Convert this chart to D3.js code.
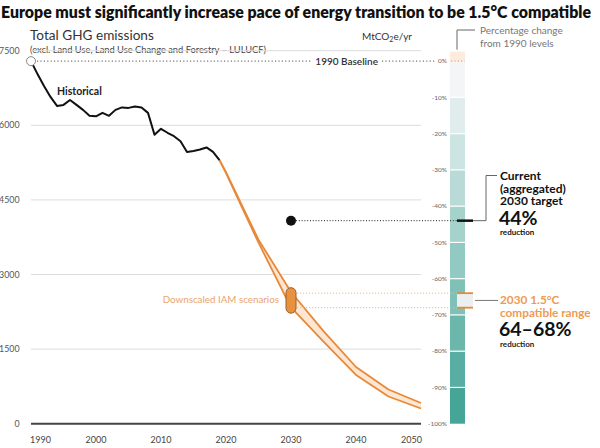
<!DOCTYPE html>
<html>
<head>
<meta charset="utf-8">
<script src="https://cdn.jsdelivr.net/npm/d3@7"></script>
<style>
  body { margin: 0; background: #fff; }
  svg { display: block; font-family: Lato, "Open Sans", sans-serif; }
</style>
</head>
<body>
<div id="chart"></div>
<script>
// historical emissions (MtCO2e/yr)
const histYears = [1990, 1991, 1992, 1993, 1994, 1995, 1996, 1997, 1998, 1999,
  2000, 2001, 2002, 2003, 2004, 2005, 2006, 2007, 2008, 2009,
  2010, 2011, 2012, 2013, 2014, 2015, 2016, 2017, 2018, 2019];
const histValues = [7290, 7030, 6790, 6570, 6390, 6410, 6510, 6410, 6310, 6190,
  6180, 6250, 6190, 6310, 6360, 6350, 6380, 6360, 6250, 5810,
  5930, 5850, 5780, 5680, 5465, 5485, 5515, 5555, 5465, 5300];

// downscaled IAM scenario range
const iamYears = [2019, 2020, 2025, 2030, 2035, 2040, 2045, 2050];
const iamLow = [5300, 5040, 3640, 2337, 1650, 980, 547, 306];
const iamHigh = [5300, 5060, 3700, 2649, 1860, 1140, 688, 416];

const baseline1990 = 7290;
const currentTarget = -44;          // % vs 1990
const compatibleRange = [-64, -68]; // % vs 1990

const yTicks = [0, 1500, 3000, 4500, 6000, 7500];
const xTicks = [1990, 2000, 2010, 2020, 2030, 2040, 2050];
const pctTicks = [0, -10, -20, -30, -40, -50, -60, -70, -80, -90, -100];

const width = 600;
const height = 448;
const orange = '#e8893a';
const orangeLight = '#fde6d2';
const gridColor = '#dcdcdc';

const svg = d3.select('#chart')
  .append('svg')
  .attr('width', width)
  .attr('height', height);

const x = d3.scaleLinear().domain([1990, 2050]).range([31, 421]);
const y = d3.scaleLinear().domain([0, 7500]).range([423.7, 50.7]);
const yPct = d3.scaleLinear().domain([-100, 0]).range([y(0), y(baseline1990)]);

// title
svg.append('text')
  .attr('x', 1).attr('y', 18)
  .attr('font-size', 16).attr('font-weight', 800).attr('fill', '#111')
  .attr('textLength', 590).attr('lengthAdjust', 'spacingAndGlyphs')
  .text('Europe must significantly increase pace of energy transition to be 1.5°C compatible');

svg.append('text')
  .attr('x', 30).attr('y', 40)
  .attr('font-size', 13.6).attr('fill', '#333')
  .text('Total GHG emissions');
svg.append('text')
  .attr('x', 30).attr('y', 52.5)
  .attr('font-size', 9.3).attr('fill', '#444')
  .text('(excl. Land Use, Land Use Change and Forestry – LULUCF)');
svg.append('text')
  .attr('x', 412).attr('y', 40).attr('text-anchor', 'end')
  .attr('font-size', 10).attr('fill', '#333')
  .html('MtCO<tspan font-size="7" dy="2">2</tspan><tspan dy="-2">e/yr</tspan>');

// gridlines
const grid = svg.append('g');
grid.selectAll('line')
  .data(yTicks.filter(d => d > 0))
  .join('line')
  .attr('x1', x(1990)).attr('x2', x(2050))
  .attr('y1', d => y(d)).attr('y2', d => y(d))
  .attr('stroke', gridColor).attr('stroke-width', 1);

svg.append('line')
  .attr('x1', x(1990)).attr('x2', x(2050))
  .attr('y1', y(0)).attr('y2', y(0))
  .attr('stroke', '#444').attr('stroke-width', 2);

// y axis labels
svg.append('g')
  .selectAll('text')
  .data(yTicks)
  .join('text')
  .attr('x', 19.5).attr('y', d => y(d))
  .attr('dy', '0.35em').attr('text-anchor', 'end')
  .attr('font-size', 8.8).attr('fill', '#555')
  .text(d => d);

// x axis labels
svg.append('g')
  .selectAll('text')
  .data(xTicks)
  .join('text')
  .attr('x', d => d === 1990 ? x(d) - 1 : d === 2050 ? x(d) + 1 : x(d))
  .attr('y', 443)
  .attr('text-anchor', d => d === 1990 ? 'start' : d === 2050 ? 'end' : 'middle')
  .attr('font-size', 9).attr('fill', '#444')
  .text(d => d);

// baseline dotted line
const yb = y(baseline1990);
svg.append('line')
  .attr('x1', x(1990) + 6).attr('x2', 312)
  .attr('y1', yb).attr('y2', yb)
  .attr('stroke', '#777').attr('stroke-width', 1.2)
  .attr('stroke-dasharray', '1.2,2.2');
svg.append('text')
  .attr('x', 378).attr('y', yb).attr('dy', '0.35em')
  .attr('text-anchor', 'end')
  .attr('font-size', 10).attr('font-weight', 600).attr('fill', '#333')
  .text('1990 Baseline');
svg.append('line')
  .attr('x1', 382).attr('x2', 436)
  .attr('y1', yb).attr('y2', yb)
  .attr('stroke', '#777').attr('stroke-width', 1.2)
  .attr('stroke-dasharray', '1.2,2.2');

// percentage bar
const barX = 450;
const barW = 15;
const bar = svg.append('g');
const segColor = d3.scaleLinear().domain([0, -90]).range(['#f3f6f7', '#45a597']);

bar.append('rect')
  .attr('x', barX).attr('y', y(7500) + 1)
  .attr('width', barW).attr('height', yb - y(7500) - 1)
  .attr('fill', '#fdebdd');

bar.selectAll('rect.seg')
  .data(pctTicks.slice(0, -1))
  .join('rect')
  .attr('class', 'seg')
  .attr('x', barX).attr('y', d => yPct(d))
  .attr('width', barW).attr('height', d => yPct(d - 10) - yPct(d))
  .attr('fill', d => segColor(d));

bar.selectAll('line.sep')
  .data(pctTicks.slice(1, -1))
  .join('line')
  .attr('class', 'sep')
  .attr('x1', barX).attr('x2', barX + barW)
  .attr('y1', d => yPct(d)).attr('y2', d => yPct(d))
  .attr('stroke', '#fff').attr('stroke-width', 1.2);

bar.append('line')
  .attr('x1', barX + 1).attr('x2', barX + barW)
  .attr('y1', yb).attr('y2', yb)
  .attr('stroke', '#e8a070').attr('stroke-width', 1.2)
  .attr('stroke-dasharray', '1.2,2.2');

svg.append('g')
  .selectAll('text')
  .data(pctTicks)
  .join('text')
  .attr('x', 447).attr('y', d => yPct(d)).attr('dy', '0.35em')
  .attr('text-anchor', 'end')
  .attr('font-size', 6.5).attr('fill', '#666')
  .text(d => d + '%');

// bar legend
svg.append('path')
  .attr('d', `M${barX + 7},${y(7500) - 1}V30H475`)
  .attr('fill', 'none').attr('stroke', '#666').attr('stroke-width', 1);
const legendText = svg.append('text')
  .attr('font-size', 10).attr('fill', '#777');
legendText.append('tspan').attr('x', 480).attr('y', 34).text('Percentage change');
legendText.append('tspan').attr('x', 480).attr('y', 46.5).text('from 1990 levels');

// IAM band
const area = d3.area()
  .x((d, i) => x(iamYears[i]))
  .y0((d, i) => y(iamLow[i]))
  .y1((d, i) => y(iamHigh[i]));
const seriesLine = d3.line().x((d, i) => x(iamYears[i])).y(d => y(d));

svg.append('path')
  .attr('d', area(iamYears))
  .attr('fill', orangeLight);
[iamLow, iamHigh].forEach(s => {
  svg.append('path')
    .attr('d', seriesLine(s))
    .attr('fill', 'none')
    .attr('stroke', orange).attr('stroke-width', 1.8)
    .attr('stroke-linejoin', 'round');
});

// historical line
const histLine = d3.line()
  .x((d, i) => x(histYears[i]))
  .y(d => y(d));
svg.append('path')
  .attr('d', histLine(histValues))
  .attr('fill', 'none')
  .attr('stroke', '#111').attr('stroke-width', 2)
  .attr('stroke-linejoin', 'round');

svg.append('circle')
  .attr('cx', x(1990)).attr('cy', yb).attr('r', 4.5)
  .attr('fill', '#fff').attr('stroke', '#888').attr('stroke-width', 1);

svg.append('text')
  .attr('x', 57).attr('y', 95)
  .attr('font-size', 10.5).attr('font-weight', 700).attr('fill', '#222')
  .text('Historical');

svg.append('text')
  .attr('x', 279).attr('y', 302.5).attr('text-anchor', 'end')
  .attr('font-size', 9.8).attr('fill', '#eaa46c')
  .text('Downscaled IAM scenarios');

// 2030 1.5C compatible range
const yr0 = yPct(compatibleRange[0]);
const yr1 = yPct(compatibleRange[1]);
compatibleRange.forEach(p => {
  svg.append('line')
    .attr('x1', x(2030) + 6).attr('x2', 457)
    .attr('y1', yPct(p)).attr('y2', yPct(p))
    .attr('stroke', '#f0b888').attr('stroke-width', 1)
    .attr('stroke-dasharray', '1.2,1.8');
});
svg.append('rect')
  .attr('x', x(2030) - 5).attr('y', yr0 - 5.5)
  .attr('width', 10).attr('height', yr1 - yr0 + 11)
  .attr('rx', 5)
  .attr('fill', '#e8913f').attr('stroke', '#9a6030').attr('stroke-width', 1);

svg.append('rect')
  .attr('x', 457).attr('y', yr0)
  .attr('width', 16).attr('height', yr1 - yr0)
  .attr('fill', '#eceeef');
compatibleRange.forEach(p => {
  svg.append('line')
    .attr('x1', 457).attr('x2', 473)
    .attr('y1', yPct(p)).attr('y2', yPct(p))
    .attr('stroke', orange).attr('stroke-width', 1.8);
});
svg.append('line')
  .attr('x1', 475).attr('x2', 498)
  .attr('y1', (yr0 + yr1) / 2).attr('y2', (yr0 + yr1) / 2)
  .attr('stroke', '#777').attr('stroke-width', 1);

// multi-line annotation blocks
function annotation(lines) {
  const t = svg.append('text').attr('font-weight', 700);
  lines.forEach(l => {
    t.append('tspan')
      .attr('x', l.x).attr('y', l.y)
      .attr('font-size', l.size).attr('fill', l.color)
      .text(l.text);
  });
}

annotation([
  { text: '2030 1.5°C', x: 500, y: 304, size: 11.8, color: '#ee9a52' },
  { text: 'compatible range', x: 500, y: 316.5, size: 11.8, color: '#ee9a52' },
  { text: '64–68%', x: 499, y: 336, size: 19.5, color: '#111' },
  { text: 'reduction', x: 500, y: 346.5, size: 8, color: '#222' }
]);

// current target
const yt = yPct(currentTarget);
svg.append('line')
  .attr('x1', x(2030) + 5).attr('x2', 457)
  .attr('y1', yt).attr('y2', yt)
  .attr('stroke', '#222').attr('stroke-width', 1)
  .attr('stroke-dasharray', '1,1.8');
svg.append('circle')
  .attr('cx', x(2030)).attr('cy', yt).attr('r', 5)
  .attr('fill', '#111');
svg.append('line')
  .attr('x1', 457).attr('x2', 473)
  .attr('y1', yt).attr('y2', yt)
  .attr('stroke', '#111').attr('stroke-width', 2.5);
svg.append('path')
  .attr('d', `M473,${yt}H486V175.5H497`)
  .attr('fill', 'none').attr('stroke', '#666').attr('stroke-width', 1);

annotation([
  { text: 'Current', x: 500, y: 180, size: 12, color: '#111' },
  { text: '(aggregated)', x: 500, y: 192.5, size: 12, color: '#111' },
  { text: '2030 target', x: 500, y: 205, size: 12, color: '#111' },
  { text: '44%', x: 499, y: 224.5, size: 19.5, color: '#111' },
  { text: 'reduction', x: 500, y: 235, size: 8, color: '#111' }
]);
</script>
</body>
</html>
